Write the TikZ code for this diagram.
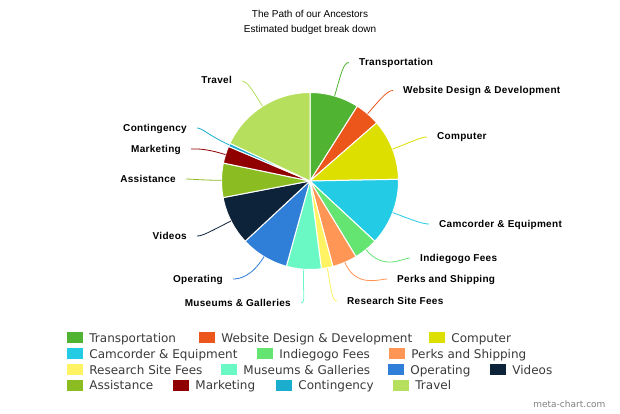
\documentclass[tikz,border=0pt]{standalone}
\usepackage{fontspec}
\setmainfont{Liberation Sans}
\newfontfamily\legendfont{DejaVu Sans}
\newfontfamily\labelfont[LetterSpace=3]{Liberation Sans}
\usetikzlibrary{positioning}
\definecolor{cTra}{HTML}{50B432}
\definecolor{cWeb}{HTML}{ED561B}
\definecolor{cCom}{HTML}{DDDF00}
\definecolor{cCam}{HTML}{24CBE5}
\definecolor{cInd}{HTML}{64E572}
\definecolor{cPer}{HTML}{FF9655}
\definecolor{cRes}{HTML}{FFF263}
\definecolor{cMus}{HTML}{6AF9C4}
\definecolor{cOpe}{HTML}{2F7ED8}
\definecolor{cVid}{HTML}{0D233A}
\definecolor{cAss}{HTML}{8BBC21}
\definecolor{cMar}{HTML}{910000}
\definecolor{cCon}{HTML}{1AADCE}
\definecolor{cTrv}{HTML}{B5DF5C}
\definecolor{legendgray}{HTML}{3A3A3A}

\begin{document}
\begin{tikzpicture}[x=1pt,y=1pt,
    slice/.style={fill=#1, draw=white, line width=1pt, line join=round},
    lead/.style={draw=#1, line width=0.8pt},
    lbl/.style={font=\labelfont\bfseries\fontsize{10}{12}\selectfont, inner xsep=10pt, inner ysep=0pt, text height=7pt, text depth=1pt},
    swatch/.style={fill=#1, minimum width=16pt, minimum height=11pt, inner sep=0pt},
    entry/.style={font=\legendfont\fontsize{12}{14}\selectfont, text=legendgray, inner sep=0pt, text height=9pt, text depth=0pt}]
    \fill[white] (0,0) rectangle (620,413);
    \useasboundingbox (0,0) rectangle (620,413);
    \node[font=\fontsize{10}{12}\selectfont] (title) at (310,399) {The Path of our Ancestors};
    \node[font=\fontsize{10}{12}\selectfont] (subtitle) at (310,383) {Estimated budget break down};
    \coordinate (C) at (310,232);
    \path[slice=cTra] (C) -- ++(90:88.5) arc[start angle=90, end angle=57.7, radius=88.5] -- cycle;
    \path[slice=cWeb] (C) -- ++(57.7:88.5) arc[start angle=57.7, end angle=41.1, radius=88.5] -- cycle;
    \path[slice=cCom] (C) -- ++(41.1:88.5) arc[start angle=41.1, end angle=1.1, radius=88.5] -- cycle;
    \path[slice=cCam] (C) -- ++(1.1:88.5) arc[start angle=1.1, end angle=-42.9, radius=88.5] -- cycle;
    \path[slice=cInd] (C) -- ++(-42.9:88.5) arc[start angle=-42.9, end angle=-58.7, radius=88.5] -- cycle;
    \path[slice=cPer] (C) -- ++(-58.7:88.5) arc[start angle=-58.7, end angle=-75, radius=88.5] -- cycle;
    \path[slice=cRes] (C) -- ++(-75:88.5) arc[start angle=-75, end angle=-82.6, radius=88.5] -- cycle;
    \path[slice=cMus] (C) -- ++(-82.6:88.5) arc[start angle=-82.6, end angle=-105.5, radius=88.5] -- cycle;
    \path[slice=cOpe] (C) -- ++(-105.5:88.5) arc[start angle=-105.5, end angle=-137.1, radius=88.5] -- cycle;
    \path[slice=cVid] (C) -- ++(-137.1:88.5) arc[start angle=-137.1, end angle=-169.2, radius=88.5] -- cycle;
    \path[slice=cAss] (C) -- ++(-169.2:88.5) arc[start angle=-169.2, end angle=-191.7, radius=88.5] -- cycle;
    \path[slice=cMar] (C) -- ++(-191.7:88.5) arc[start angle=-191.7, end angle=-203, radius=88.5] -- cycle;
    \path[slice=cCon] (C) -- ++(-203:88.5) arc[start angle=-203, end angle=-205.2, radius=88.5] -- cycle;
    \path[slice=cTrv] (C) -- ++(-205.2:88.5) arc[start angle=-205.2, end angle=-270, radius=88.5] -- cycle;
    \node[lbl, anchor=west] (lTra) at (349,350.5) {Transportation};
    \node[lbl, anchor=west] (lWeb) at (393,322.5) {Website Design \& Development};
    \node[lbl, anchor=west] (lCom) at (427,276) {Computer};
    \node[lbl, anchor=west] (lCam) at (429,189) {Camcorder \& Equipment};
    \node[lbl, anchor=west] (lInd) at (410,155) {Indiegogo Fees};
    \node[lbl, anchor=west] (lPer) at (387,134) {Perks and Shipping};
    \node[lbl, anchor=west] (lRes) at (337,112) {Research Site Fees};
    \node[lbl, anchor=east] (lMus) at (301,110) {Museums \& Galleries};
    \node[lbl, anchor=east] (lOpe) at (233,134) {Operating};
    \node[lbl, anchor=east] (lVid) at (197,177) {Videos};
    \node[lbl, anchor=east] (lAss) at (186,234) {Assistance};
    \node[lbl, anchor=east] (lMar) at (191,264) {Marketing};
    \node[lbl, anchor=east] (lCon) at (197,285) {Contingency};
    \node[lbl, anchor=east] (lTrv) at (242,332) {Travel};
    \path (C) ++(73.85:88.5) coordinate (eTra);
    \path (C) ++(49.4:88.5) coordinate (eWeb);
    \path (C) ++(21.1:88.5) coordinate (eCom);
    \path (C) ++(-20.9:88.5) coordinate (eCam);
    \path (C) ++(-50.8:88.5) coordinate (eInd);
    \path (C) ++(-66.85:88.5) coordinate (ePer);
    \path (C) ++(-78.8:88.5) coordinate (eRes);
    \path (C) ++(-94.05:88.5) coordinate (eMus);
    \path (C) ++(-121.3:88.5) coordinate (eOpe);
    \path (C) ++(-153.15:88.5) coordinate (eVid);
    \path (C) ++(-180.45:88.5) coordinate (eAss);
    \path (C) ++(-197.35:88.5) coordinate (eMar);
    \path (C) ++(-204.1:88.5) coordinate (eCon);
    \path (C) ++(-237.6:88.5) coordinate (eTrv);
    \draw[lead=cTra] (eTra) to[out=73.85, in=180, out looseness=1.6, in looseness=0.4] (lTra.west);
    \draw[lead=cWeb] (eWeb) to[out=49.4, in=180, out looseness=1.6, in looseness=0.4] (lWeb.west);
    \draw[lead=cCom] (eCom) to[out=21.1, in=180, out looseness=1.6, in looseness=0.4] (lCom.west);
    \draw[lead=cCam] (eCam) to[out=-20.9, in=180, out looseness=1.6, in looseness=0.4] (lCam.west);
    \draw[lead=cInd] (eInd) to[out=-50.8, in=180, out looseness=1.6, in looseness=0.4] (lInd.west);
    \draw[lead=cPer] (ePer) to[out=-66.85, in=180, out looseness=1.6, in looseness=0.4] (lPer.west);
    \draw[lead=cRes] (eRes) to[out=-78.8, in=180, out looseness=1.6, in looseness=0.4] (lRes.west);
    \draw[lead=cMus] (eMus) to[out=-94.05, in=0, out looseness=1.6, in looseness=0.4] (lMus.east);
    \draw[lead=cOpe] (eOpe) to[out=-121.3, in=0, out looseness=1.6, in looseness=0.4] (lOpe.east);
    \draw[lead=cVid] (eVid) to[out=-153.15, in=0, out looseness=1.6, in looseness=0.4] (lVid.east);
    \draw[lead=cAss] (eAss) to[out=-180.45, in=0, out looseness=1.6, in looseness=0.4] (lAss.east);
    \draw[lead=cMar] (eMar) to[out=-197.35, in=0, out looseness=1.6, in looseness=0.4] (lMar.east);
    \draw[lead=cCon] (eCon) to[out=-204.1, in=0, out looseness=1.6, in looseness=0.4] (lCon.east);
    \draw[lead=cTrv] (eTrv) to[out=-237.6, in=0, out looseness=1.6, in looseness=0.4] (lTrv.east);
    \node[swatch=cTra] (kTra) at (75,75.5) {};
    \node[entry, right=6pt of kTra] (nTra) {Transportation};
    \node[swatch=cWeb] (kWeb) at (207,75.5) {};
    \node[entry, right=6pt of kWeb] (nWeb) {Website Design \& Development};
    \node[swatch=cCom] (kCom) at (437,75.5) {};
    \node[entry, right=6pt of kCom] (nCom) {Computer};
    \node[swatch=cCam] (kCam) at (75,59.5) {};
    \node[entry, right=6pt of kCam] (nCam) {Camcorder \& Equipment};
    \node[swatch=cInd] (kInd) at (265,59.5) {};
    \node[entry, right=6pt of kInd] (nInd) {Indiegogo Fees};
    \node[swatch=cPer] (kPer) at (397,59.5) {};
    \node[entry, right=6pt of kPer] (nPer) {Perks and Shipping};
    \node[swatch=cRes] (kRes) at (75,43.5) {};
    \node[entry, right=6pt of kRes] (nRes) {Research Site Fees};
    \node[swatch=cMus] (kMus) at (229,43.5) {};
    \node[entry, right=6pt of kMus] (nMus) {Museums \& Galleries};
    \node[swatch=cOpe] (kOpe) at (396,43.5) {};
    \node[entry, right=6pt of kOpe] (nOpe) {Operating};
    \node[swatch=cVid] (kVid) at (498,43.5) {};
    \node[entry, right=6pt of kVid] (nVid) {Videos};
    \node[swatch=cAss] (kAss) at (75,28) {};
    \node[entry, right=6pt of kAss] (nAss) {Assistance};
    \node[swatch=cMar] (kMar) at (181,28) {};
    \node[entry, right=6pt of kMar] (nMar) {Marketing};
    \node[swatch=cCon] (kCon) at (284,28) {};
    \node[entry, right=6pt of kCon] (nCon) {Contingency};
    \node[swatch=cTrv] (kTrv) at (401,28) {};
    \node[entry, right=6pt of kTrv] (nTrv) {Travel};
    \node[anchor=east, font=\legendfont\fontsize{9}{10}\selectfont, text=gray] (credit) at (609,9) {meta-chart.com};
\end{tikzpicture}
\end{document}
